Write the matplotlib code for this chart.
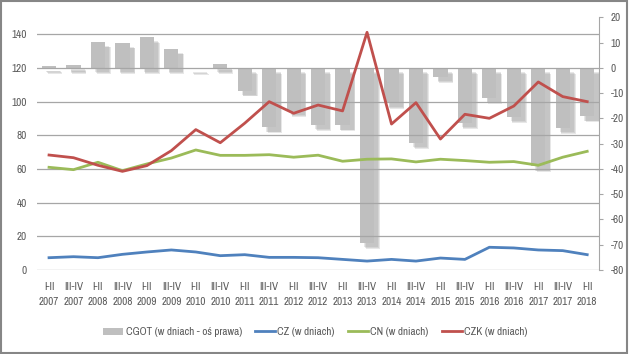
import matplotlib
matplotlib.use("Agg")
import matplotlib.pyplot as plt
import matplotlib.patheffects as pe
from matplotlib import font_manager
from matplotlib.patches import Patch, Rectangle
from matplotlib.lines import Line2D
import numpy as np

# Szukamy wąskiej czcionki (jak Calibri w oryginale), inaczej Liberation Sans
rodziny = sorted({f.name for f in font_manager.fontManager.ttflist})
waskie = [r for r in rodziny if 'Narrow' in r or 'Condensed' in r]
czcionka = waskie[0] if waskie else 'Liberation Sans'
plt.rcParams['font.family'] = [czcionka, 'DejaVu Sans']
plt.rcParams['axes.unicode_minus'] = False
rozmiar = 8.0 if waskie else 6.6

# Dane
okresy = ['I-II', 'III-IV'] * 11 + ['I-II']
lata = ['2007', '2007', '2008', '2008', '2009', '2009', '2010', '2010', '2011', '2011',
        '2012', '2012', '2013', '2013', '2014', '2014', '2015', '2015', '2016', '2016',
        '2017', '2017', '2018']
cgot = [0.6, 1.2, 10.4, 10.0, 12.3, 7.7, -0.5, 1.5, -9.0, -23.5, -17.0, -22.6,
        -22.7, -69.3, -13.9, -29.7, -3.5, -21.8, -11.9, -19.4, -39.0, -23.8, -19.2]
cz = [7.3, 7.9, 7.3, 9.3, 10.7, 11.9, 10.7, 8.5, 9.1, 7.5, 7.5, 7.3,
      6.3, 5.3, 6.3, 5.3, 7.1, 6.3, 13.5, 13.1, 11.9, 11.5, 9.1]
cn = [61.0, 59.6, 64.0, 59.0, 63.0, 66.5, 71.3, 68.1, 68.1, 68.5, 67.0, 68.2,
      64.6, 65.8, 66.0, 64.2, 65.8, 65.0, 64.0, 64.4, 62.2, 67.0, 70.5]
czk = [68.3, 66.7, 62.2, 58.6, 62.0, 70.9, 83.4, 75.6, 87.2, 100.0, 93.1, 98.0,
       94.5, 141.2, 86.7, 99.4, 77.8, 92.5, 90.1, 97.4, 111.7, 103.0, 100.0]

etykiety = [f"{o}\n{r}" for o, r in zip(okresy, lata)]
x = np.arange(len(etykiety))

kolor_tekstu = '#595959'
kolor_siatki = '#a6a6a6'

fig = plt.figure(figsize=(6.29, 3.54), dpi=100)
ax = fig.add_axes([0.0585, 0.2373, 0.8945, 0.7133])
ax2 = ax.twinx()

# Słupki (oś prawa) z rozmytym cieniem - kilka warstw
cien = [pe.SimplePatchShadow(offset=(3.6 + d, -3.6 - d), shadow_rgbFace='#8a8a8a', alpha=0.2)
        for d in (-0.5, 0.0, 0.5)]
cien.append(pe.Normal())
slupki = ax2.bar(x, cgot, width=0.58, color='#bfbfbf', zorder=2)
for s in slupki:
    s.set_path_effects(cien)
ax2.set_ylim(-80, 20)
ax2.set_yticks(np.arange(-80, 21, 10))

# Linie (oś lewa) nad słupkami
ax.set_zorder(ax2.get_zorder() + 1)
ax.patch.set_visible(False)
ax.plot(x, cz, color='#4f81bd', lw=2.0, zorder=3)
ax.plot(x, cn, color='#9bbb59', lw=2.0, zorder=3)
ax.plot(x, czk, color='#c0504d', lw=2.0, zorder=3)
ax.set_ylim(0, 150)
ax.set_yticks(np.arange(0, 141, 20))
ax.set_xlim(-0.5, len(x) - 0.5)
ax.set_xticks(x)
ax.set_xticklabels(etykiety, linespacing=1.6)
ax.grid(axis='y', color=kolor_siatki, lw=0.9)
ax.set_axisbelow(True)

for a in (ax, ax2):
    for s in ('top', 'left', 'bottom', 'right'):
        a.spines[s].set_visible(False)
ax2.spines['right'].set_visible(True)
ax2.spines['right'].set_color('#a6a6a6')

ax.tick_params(axis='both', length=0, labelsize=rozmiar, labelcolor=kolor_tekstu)
ax.tick_params(axis='x', pad=9)
ax.tick_params(axis='y', pad=7)
ax2.tick_params(axis='y', length=3, color='#a6a6a6', labelsize=rozmiar, labelcolor=kolor_tekstu, pad=5)

# Legenda
uchwyty = [Patch(facecolor='#bfbfbf', edgecolor='none'),
           Line2D([], [], color='#4f81bd', lw=2),
           Line2D([], [], color='#9bbb59', lw=2),
           Line2D([], [], color='#c0504d', lw=2)]
opisy = ['CGOT (w dniach - oś prawa)', 'CZ (w dniach)', 'CN (w dniach)', 'CZK (w dniach)']
fig.legend(uchwyty, opisy, loc='center', bbox_to_anchor=(0.5016, 0.062), ncol=4, frameon=False,
           fontsize=rozmiar, labelcolor=kolor_tekstu, handlelength=1.8, handleheight=0.6,
           handletextpad=0.2, columnspacing=1.2)

# Ramka wokół wykresu
fig.patches.append(Rectangle((0.002, 0.003), 0.995, 0.993, transform=fig.transFigure,
                             fill=False, edgecolor='#868686', lw=1.5))

fig.savefig('out.png', dpi=100)
